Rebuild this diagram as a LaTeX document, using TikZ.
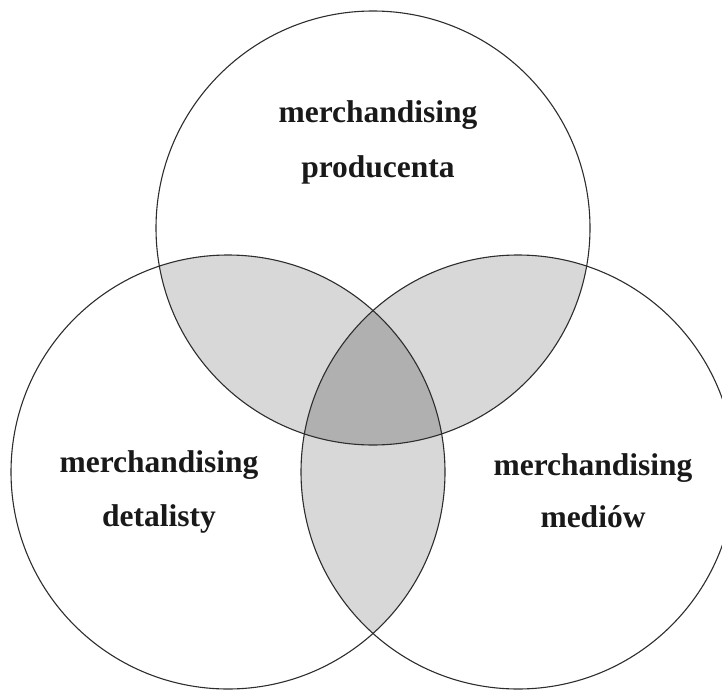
\documentclass[tikz,border=0pt]{standalone}
\usepackage{fontspec}
\setmainfont{Liberation Serif}
\definecolor{pairgray}{RGB}{216,216,216}
\definecolor{triplegray}{RGB}{176,176,176}
\definecolor{ringcol}{RGB}{45,45,45}
\begin{document}
\begin{tikzpicture}[x=1pt,y=-1pt,
  ring/.style={draw=ringcol, line width=1.1pt},
  pairfill/.style={fill=pairgray},
  triplefill/.style={fill=triplegray},
  lab/.style={font=\bfseries\fontsize{31.5}{31.5}\selectfont, anchor=base, inner sep=0pt, text=black!90}]
\useasboundingbox (0,0) rectangle (722,690);
\clip (0,0) rectangle (722,690);
\def\R{217pt}
\coordinate (P) at (373,228);
\coordinate (D) at (228,472);
\coordinate (M) at (518,472);
% pairwise overlaps
\begin{scope}
  \clip (P) circle[radius=\R];
  \fill[pairfill] (D) circle[radius=\R];
  \fill[pairfill] (M) circle[radius=\R];
\end{scope}
\begin{scope}
  \clip (D) circle[radius=\R];
  \fill[pairfill] (M) circle[radius=\R];
\end{scope}
% triple overlap
\begin{scope}
  \clip (P) circle[radius=\R];
  \clip (D) circle[radius=\R];
  \fill[triplefill] (M) circle[radius=\R];
\end{scope}
% outlines
\draw[ring] (P) circle[radius=\R];
\draw[ring] (D) circle[radius=\R];
\draw[ring] (M) circle[radius=\R];
% labels
\node[lab] (p1) at (378,123) {merchandising};
\node[lab] (p2) at (378,177) {producenta};
\node[lab] (d1) at (159,472) {merchandising};
\node[lab] (d2) at (159,526) {detalisty};
\node[lab] (m1) at (593,475) {merchandising};
\node[lab] (m2) at (593,527) {mediów};
\end{tikzpicture}
\end{document}
